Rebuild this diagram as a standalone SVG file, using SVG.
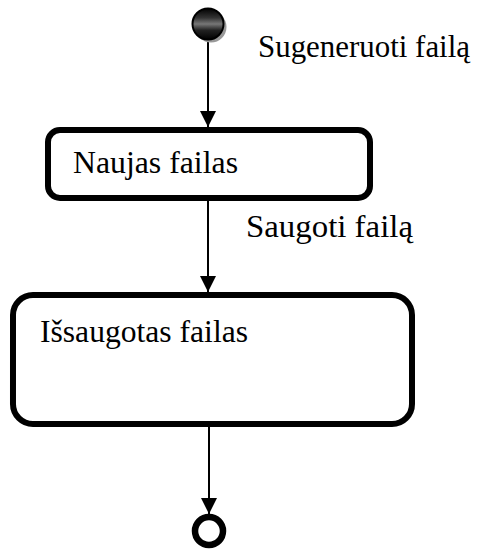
<svg xmlns="http://www.w3.org/2000/svg" width="482" height="553" viewBox="0 0 482 553">
  <defs>
    <style>
      .lbl { font-family: "Liberation Serif", "Times New Roman", serif; font-size: 31.5px; fill: #000; }
      .state { fill: #fff; stroke: #000; stroke-width: 6; }
      .flow { stroke: #000; stroke-width: 2; fill: none; marker-end: url(#arrow); }
    </style>
    <marker id="arrow" markerUnits="userSpaceOnUse" markerWidth="18" markerHeight="16" refX="16" refY="8" orient="auto">
      <path d="M0,0 L16,8 L0,16 Z" fill="#000"/>
    </marker>
    <linearGradient id="startFill" x1="0" y1="0" x2="0" y2="1">
      <stop offset="0" stop-color="#000"/>
      <stop offset="0.3" stop-color="#333"/>
      <stop offset="0.5" stop-color="#777"/>
      <stop offset="0.7" stop-color="#222"/>
      <stop offset="1" stop-color="#000"/>
    </linearGradient>
  </defs>

  <rect width="482" height="553" fill="#fff"/>

  <!-- transitions -->
  <g id="connectors">
    <line class="flow" x1="208" y1="41" x2="208" y2="127"/>
    <line class="flow" x1="208" y1="201" x2="208" y2="292"/>
    <line class="flow" x1="209" y1="427" x2="209" y2="514"/>
  </g>

  <!-- initial state -->
  <g id="start">
    <circle cx="211" cy="27" r="15.5" fill="#999"/>
    <circle cx="208" cy="24" r="15.5" fill="url(#startFill)" stroke="#000" stroke-width="2"/>
  </g>

  <text class="lbl" x="258" y="57" textLength="212" lengthAdjust="spacingAndGlyphs">Sugeneruoti failą</text>

  <g id="naujas">
    <rect class="state" x="48" y="130" width="322" height="68" rx="12" ry="12"/>
    <text class="lbl" x="73" y="173" textLength="165" lengthAdjust="spacingAndGlyphs">Naujas failas</text>
  </g>

  <text class="lbl" x="246" y="237" textLength="167" lengthAdjust="spacingAndGlyphs">Saugoti failą</text>

  <g id="issaugotas">
    <rect class="state" x="13" y="295" width="399" height="129" rx="20" ry="20"/>
    <text class="lbl" x="40" y="342" textLength="208" lengthAdjust="spacingAndGlyphs">Išsaugotas failas</text>
  </g>

  <!-- final state -->
  <g id="end">
    <circle cx="209" cy="531" r="14" fill="#fff" stroke="#000" stroke-width="6.5"/>
  </g>
</svg>
